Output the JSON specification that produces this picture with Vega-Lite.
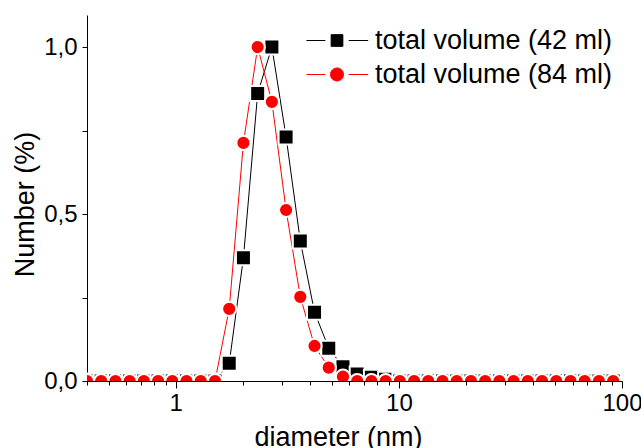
{
  "$schema": "https://vega.github.io/schema/vega-lite/v6.json",
  "autosize": {"type": "none"},
  "padding": {"left": 87, "top": 15, "right": 19, "bottom": 67},
  "background": "white",
  "params": [
    {"name": "width", "value": 535},
    {"name": "height", "value": 366}
  ],
  "config": {
    "view": {"stroke": null},
    "font": "Liberation Sans",
    "axis": {
      "domainColor": "black", "tickColor": "black", "labelColor": "black", "titleColor": "black",
      "labelFont": "Liberation Sans", "titleFont": "Liberation Sans",
      "labelFontSize": 24, "titleFontSize": 27, "titleFontWeight": "normal",
      "grid": false, "domainWidth": 1, "tickWidth": 1
    }
  },
  "data": {"values": [
    {"d": 0.4, "series": "total volume (42 ml)", "v": 0},
    {"d": 0.4632, "series": "total volume (42 ml)", "v": 0},
    {"d": 0.5365, "series": "total volume (42 ml)", "v": 0},
    {"d": 0.6213, "series": "total volume (42 ml)", "v": 0},
    {"d": 0.7195, "series": "total volume (42 ml)", "v": 0},
    {"d": 0.8332, "series": "total volume (42 ml)", "v": 0},
    {"d": 0.9649, "series": "total volume (42 ml)", "v": 0},
    {"d": 1.117, "series": "total volume (42 ml)", "v": 0},
    {"d": 1.294, "series": "total volume (42 ml)", "v": 0},
    {"d": 1.499, "series": "total volume (42 ml)", "v": 0},
    {"d": 1.736, "series": "total volume (42 ml)", "v": 0.053},
    {"d": 2.01, "series": "total volume (42 ml)", "v": 0.369},
    {"d": 2.328, "series": "total volume (42 ml)", "v": 0.861},
    {"d": 2.696, "series": "total volume (42 ml)", "v": 1.0},
    {"d": 3.122, "series": "total volume (42 ml)", "v": 0.731},
    {"d": 3.615, "series": "total volume (42 ml)", "v": 0.419},
    {"d": 4.187, "series": "total volume (42 ml)", "v": 0.206},
    {"d": 4.849, "series": "total volume (42 ml)", "v": 0.098},
    {"d": 5.615, "series": "total volume (42 ml)", "v": 0.043},
    {"d": 6.503, "series": "total volume (42 ml)", "v": 0.021},
    {"d": 7.531, "series": "total volume (42 ml)", "v": 0.011},
    {"d": 8.721, "series": "total volume (42 ml)", "v": 0.005},
    {"d": 10.1, "series": "total volume (42 ml)", "v": 0},
    {"d": 11.7, "series": "total volume (42 ml)", "v": 0},
    {"d": 13.54, "series": "total volume (42 ml)", "v": 0},
    {"d": 15.69, "series": "total volume (42 ml)", "v": 0},
    {"d": 18.17, "series": "total volume (42 ml)", "v": 0},
    {"d": 21.04, "series": "total volume (42 ml)", "v": 0},
    {"d": 24.36, "series": "total volume (42 ml)", "v": 0},
    {"d": 28.21, "series": "total volume (42 ml)", "v": 0},
    {"d": 32.67, "series": "total volume (42 ml)", "v": 0},
    {"d": 37.84, "series": "total volume (42 ml)", "v": 0},
    {"d": 43.82, "series": "total volume (42 ml)", "v": 0},
    {"d": 50.75, "series": "total volume (42 ml)", "v": 0},
    {"d": 58.77, "series": "total volume (42 ml)", "v": 0},
    {"d": 68.06, "series": "total volume (42 ml)", "v": 0},
    {"d": 78.82, "series": "total volume (42 ml)", "v": 0},
    {"d": 91.28, "series": "total volume (42 ml)", "v": 0},
    {"d": 0.4, "series": "total volume (84 ml)", "v": 0},
    {"d": 0.4632, "series": "total volume (84 ml)", "v": 0},
    {"d": 0.5365, "series": "total volume (84 ml)", "v": 0},
    {"d": 0.6213, "series": "total volume (84 ml)", "v": 0},
    {"d": 0.7195, "series": "total volume (84 ml)", "v": 0},
    {"d": 0.8332, "series": "total volume (84 ml)", "v": 0},
    {"d": 0.9649, "series": "total volume (84 ml)", "v": 0},
    {"d": 1.117, "series": "total volume (84 ml)", "v": 0},
    {"d": 1.294, "series": "total volume (84 ml)", "v": 0},
    {"d": 1.499, "series": "total volume (84 ml)", "v": 0},
    {"d": 1.736, "series": "total volume (84 ml)", "v": 0.216},
    {"d": 2.01, "series": "total volume (84 ml)", "v": 0.713},
    {"d": 2.328, "series": "total volume (84 ml)", "v": 1.0},
    {"d": 2.696, "series": "total volume (84 ml)", "v": 0.836},
    {"d": 3.122, "series": "total volume (84 ml)", "v": 0.512},
    {"d": 3.615, "series": "total volume (84 ml)", "v": 0.252},
    {"d": 4.187, "series": "total volume (84 ml)", "v": 0.105},
    {"d": 4.849, "series": "total volume (84 ml)", "v": 0.04},
    {"d": 5.615, "series": "total volume (84 ml)", "v": 0.013},
    {"d": 6.503, "series": "total volume (84 ml)", "v": 0},
    {"d": 7.531, "series": "total volume (84 ml)", "v": 0},
    {"d": 8.721, "series": "total volume (84 ml)", "v": 0},
    {"d": 10.1, "series": "total volume (84 ml)", "v": 0},
    {"d": 11.7, "series": "total volume (84 ml)", "v": 0},
    {"d": 13.54, "series": "total volume (84 ml)", "v": 0},
    {"d": 15.69, "series": "total volume (84 ml)", "v": 0},
    {"d": 18.17, "series": "total volume (84 ml)", "v": 0},
    {"d": 21.04, "series": "total volume (84 ml)", "v": 0},
    {"d": 24.36, "series": "total volume (84 ml)", "v": 0},
    {"d": 28.21, "series": "total volume (84 ml)", "v": 0},
    {"d": 32.67, "series": "total volume (84 ml)", "v": 0},
    {"d": 37.84, "series": "total volume (84 ml)", "v": 0},
    {"d": 43.82, "series": "total volume (84 ml)", "v": 0},
    {"d": 50.75, "series": "total volume (84 ml)", "v": 0},
    {"d": 58.77, "series": "total volume (84 ml)", "v": 0},
    {"d": 68.06, "series": "total volume (84 ml)", "v": 0},
    {"d": 78.82, "series": "total volume (84 ml)", "v": 0},
    {"d": 91.28, "series": "total volume (84 ml)", "v": 0}
  ]},
  "vconcat": [
    {
      "width": 535,
      "height": 366,
      "encoding": {
        "y": {
          "field": "v", "type": "quantitative",
          "scale": {"domain": [0, 1.096], "nice": false, "zero": false},
          "axis": {
            "values": [0, 0.25, 0.5, 0.75, 1],
            "labelExpr": "datum.value == 0.25 || datum.value == 0.75 ? '' : replace(format(datum.value, '.1f'), '.', ',')",
            "tickSize": 5, "labelPadding": 5,
            "title": "Number (%)", "titleAngle": 270, "titleAlign": "center", "titleBaseline": "alphabetic",
            "titleX": -54, "titleY": 189
          }
        },
        "color": {
          "field": "series", "type": "nominal",
          "scale": {"domain": ["total volume (42 ml)", "total volume (84 ml)"], "range": ["#000000", "#ff0000"]},
          "legend": {
            "orient": "none", "legendX": 236.5, "legendY": 12, "title": null,
            "labelFont": "Liberation Sans", "labelFontSize": 27, "labelColor": "black", "labelLimit": 400,
            "symbolSize": 169, "symbolStrokeWidth": 1, "labelOffset": 24.5, "rowPadding": 6, "padding": 0,
            "encoding": {
              "symbols": {
                "shape": {"value": {"expr": "datum.value === 'total volume (42 ml)' ? 'M-4.7,0H-1.8M-0.9,-0.9H0.9V0.9H-0.9ZM1.8,0H4.8' : 'M-4.7,0H-1.8M1,0A1,1,0,1,1,-1,0A1,1,0,1,1,1,0ZM1.8,0H4.8'"}},
                "fill": {"value": {"expr": "datum.value === 'total volume (42 ml)' ? '#000000' : '#ff0000'"}},
                "stroke": {"value": {"expr": "datum.value === 'total volume (42 ml)' ? '#000000' : '#ff0000'"}},
                "strokeWidth": {"value": 1},
                "opacity": {"value": 1}
              }
            }
          }
        }
      },
      "layer": [
        {
          "mark": {"type": "line", "clip": true, "strokeWidth": 1},
          "encoding": {
            "x": {
              "field": "d", "type": "quantitative",
              "scale": {"type": "log", "domain": [0.4, 100], "nice": false},
              "axis": {
                "orient": "bottom", "values": [1, 10, 100], "format": "~g", "tickSize": 7, "labelPadding": 3,
                "labelFlush": false, "labelOverlap": false,
                "title": "diameter (nm)", "titleX": 251, "titleY": 64, "titleBaseline": "alphabetic", "titleAlign": "center"
              }
            }
          }
        },
        {
          "mark": {"type": "point", "filled": true, "clip": true, "opacity": 1, "stroke": "white", "strokeWidth": 2},
          "encoding": {
            "x": {
              "field": "d", "type": "quantitative",
              "scale": {"type": "log", "domain": [0.4, 100], "nice": false},
              "axis": {
                "orient": "bottom", "values": [0.4, 0.5, 0.6, 0.7, 0.8, 0.9, 2, 3, 4, 5, 6, 7, 8, 9, 20, 30, 40, 50, 60, 70, 80, 90],
                "labels": false, "title": null, "tickSize": 4, "domain": false
              }
            },
            "shape": {"field": "series", "type": "nominal", "scale": {"range": ["square", "circle"]}},
            "size": {"field": "series", "type": "nominal", "scale": {"range": [225, 201]}, "legend": null}
          }
        }
      ],
      "resolve": {"axis": {"x": "independent"}}
    }
  ]
}
